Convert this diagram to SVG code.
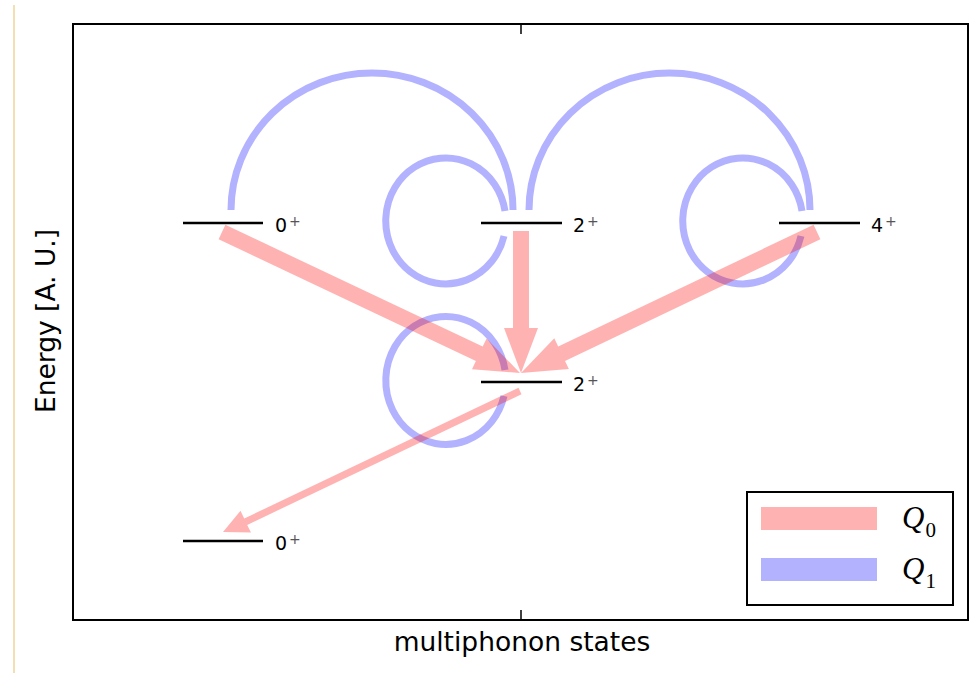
<svg xmlns="http://www.w3.org/2000/svg" width="972" height="673" viewBox="0 0 972 673">
<style>
.q1{fill:none;stroke:#0000ff;stroke-opacity:0.3;stroke-width:7}
.q0{fill:#ff0000;fill-opacity:0.3;stroke:none}
.lvl{stroke:#000;stroke-width:2.5}
.lab{font-family:"DejaVu Sans",sans-serif;font-size:19px;fill:#000}
.sup{font-size:14px;fill:#555}
.ax{font-family:"DejaVu Sans",sans-serif;font-size:26.5px;fill:#000}
.leg{font-family:"Liberation Serif",serif;font-style:italic;font-size:31px;fill:#000}
.sub{font-family:"Liberation Serif",serif;font-style:normal;font-size:21px}
</style>
<rect width="972" height="673" fill="#fff"/>
<line x1="14" y1="5" x2="14" y2="673" stroke="#f0d49a" stroke-width="1.5"/>
<g id="connectors">
  <path class="q1" d="M231,210 A141,137 0 0 1 513,210"/>
  <path class="q1" d="M529,210 A140.5,137 0 0 1 810,210"/>
  <path class="q1" d="M505,211 A60,63 0 1 0 504,236"/>
  <path class="q1" d="M802,211 A60,63 0 1 0 801,236"/>
  <path class="q1" d="M505,370 A60,64 0 1 0 504,396"/>
  <polygon class="q0" points="225.4,224.8 482.7,346.6 486.6,338.4 520,373 472.0,369.2 475.9,361.0 218.6,239.2"/>
  <polygon class="q0" points="513,231 529,231 529,328 538,328 521,373 504,328 513,328"/>
  <polygon class="q0" points="813.6,224.8 558.2,346.4 554.3,338.3 521,373 568.9,369.0 565.0,360.9 820.4,239.2"/>
  <polygon class="q0" points="518.5,387.8 244.2,518.5 240.5,510.8 223,532 251.0,532.6 247.2,524.9 521.5,394.2"/>
</g>
<g id="level-0plus-top">
  <line class="lvl" x1="183" y1="223" x2="263" y2="223"/>
  <text class="lab" x="275" y="232">0<tspan class="sup" dx="2" dy="-6">+</tspan></text>
</g>
<g id="level-2plus-top">
  <line class="lvl" x1="481" y1="223" x2="562" y2="223"/>
  <text class="lab" x="573" y="232">2<tspan class="sup" dx="2" dy="-6">+</tspan></text>
</g>
<g id="level-4plus-top">
  <line class="lvl" x1="779" y1="223" x2="860" y2="223"/>
  <text class="lab" x="871" y="232">4<tspan class="sup" dx="2" dy="-6">+</tspan></text>
</g>
<g id="level-2plus-mid">
  <line class="lvl" x1="481" y1="382" x2="562" y2="382"/>
  <text class="lab" x="573" y="391">2<tspan class="sup" dx="2" dy="-6">+</tspan></text>
</g>
<g id="level-0plus-bottom">
  <line class="lvl" x1="183" y1="541" x2="263" y2="541"/>
  <text class="lab" x="275" y="550">0<tspan class="sup" dx="2" dy="-6">+</tspan></text>
</g>
<g id="axes">
  <rect x="73" y="24" width="895" height="596" fill="none" stroke="#000" stroke-width="2"/>
  <line x1="521" y1="24" x2="521" y2="34" stroke="#000" stroke-width="1.5"/>
  <line x1="521" y1="620" x2="521" y2="610" stroke="#000" stroke-width="1.5"/>
  <text class="ax" x="522" y="651" text-anchor="middle">multiphonon states</text>
  <text class="ax" transform="translate(55,321) rotate(-90)" text-anchor="middle">Energy [A. U.]</text>
</g>
<g id="legend">
  <rect x="747" y="492" width="206" height="113" fill="#fff" stroke="#000" stroke-width="2"/>
  <rect x="761" y="507" width="116" height="23" fill="#ff0000" fill-opacity="0.3"/>
  <rect x="761" y="558" width="116" height="23" fill="#0000ff" fill-opacity="0.3"/>
  <text class="leg" x="902" y="528">Q<tspan class="sub" dx="1" dy="9">0</tspan></text>
  <text class="leg" x="902" y="579">Q<tspan class="sub" dx="1" dy="9">1</tspan></text>
</g>
</svg>
